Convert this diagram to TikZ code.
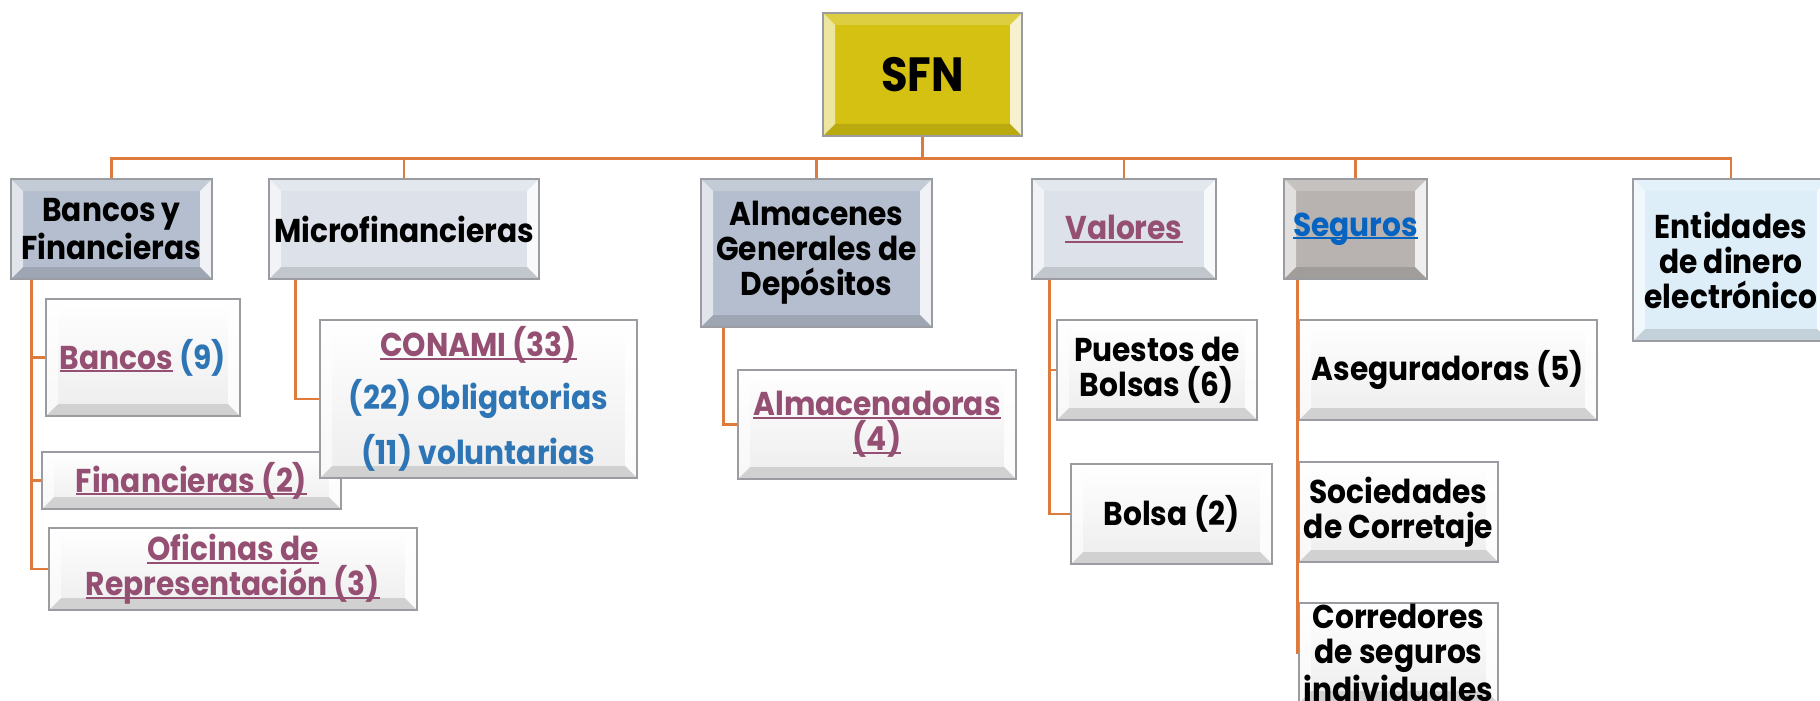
\documentclass[tikz,border=0pt]{standalone}
\usepackage{fontspec}
\setmainfont{Poppins}[FakeStretch=0.9]
\usetikzlibrary{calc}
\definecolor{cSFN}{HTML}{D4C112}
\definecolor{cSteel}{HTML}{B4BECE}
\definecolor{cLight}{HTML}{DDE2EA}
\definecolor{cWarm}{HTML}{B8B3B1}
\definecolor{cIce}{HTML}{DDEEF9}
\definecolor{cChildB}{HTML}{EDEDED}
\definecolor{cBorder}{HTML}{9A9CA2}
\definecolor{cLink}{HTML}{954F72}
\definecolor{cNum}{HTML}{2E75B6}
\definecolor{cHyper}{HTML}{0563C1}
\definecolor{cOr}{HTML}{DD7A3C}
\newcommand{\lnk}[1]{\leavevmode\setbox0=\hbox{#1}\rlap{\rule[-1.6pt]{\wd0}{1pt}}\box0}
\tikzset{
  bev/.style={path picture={
    \coordinate (q1) at (path picture bounding box.north west);
    \coordinate (q2) at (path picture bounding box.north east);
    \coordinate (q3) at (path picture bounding box.south east);
    \coordinate (q4) at (path picture bounding box.south west);
    \fill[white,opacity=.2] (q1) -- (q2) -- ($(q2)+(-12,12)$) -- ($(q1)+(12,12)$) -- cycle;
    \fill[white,opacity=.6] (q1) -- ($(q1)+(12,12)$) -- ($(q4)+(12,-12)$) -- (q4) -- cycle;
    \fill[white,opacity=.8] (q2) -- (q3) -- ($(q3)+(-12,-12)$) -- ($(q2)+(-12,12)$) -- cycle;
    \fill[black,opacity=.12] (q4) -- (q3) -- ($(q3)+(-12,-12)$) -- ($(q4)+(12,-12)$) -- cycle;
  }},
  pbox/.style={draw=cBorder, line width=0.8pt, inner sep=0pt, align=center, bev},
  cbox/.style={pbox, top color=white, bottom color=cChildB},
  conn/.style={draw=cOr, line width=1.3pt}
}
\begin{document}
\begin{tikzpicture}[x=0.5pt, y=-0.5pt, font=\bfseries\fontsize{16.5}{17.5}\selectfont]
\useasboundingbox (0,0) rectangle (1820,701);
% top level
\node[pbox, fill=cSFN, minimum width=99.5pt, minimum height=61.5pt, font=\bfseries\fontsize{24}{26}\selectfont] (sfn) at (922.5,74.5) {SFN};
\node[pbox, fill=cSteel, minimum width=100.5pt, minimum height=50pt] (bf) at (111.5,229) {Bancos y\\Financieras};
\node[pbox, fill=cLight, minimum width=135pt, minimum height=50pt] (mic) at (404,229) {Microfinancieras};
\node[pbox, fill=cSteel, minimum width=115.5pt, minimum height=74pt] (alm) at (816.5,253) {Almacenes\\Generales de\\Depósitos};
\node[pbox, fill=cLight, minimum width=92pt, minimum height=50pt, text=cLink] (val) at (1124,229) {\lnk{Valores}};
\node[pbox, fill=cWarm, minimum width=71.5pt, minimum height=50pt, text=cHyper] (seg) at (1355.5,229) {\lnk{Seguros}};
\node[pbox, fill=cIce, minimum width=98pt, minimum height=81pt] (ent) at (1731,260) {Entidades\\de dinero\\electrónico};
% children
\node[cbox, minimum width=97pt, minimum height=58.5pt] (ban) at (143,357.5) {{\color{cLink}\lnk{Bancos}} {\color{cNum}(9)}};
\node[cbox, minimum width=149.5pt, minimum height=28.5pt, text=cLink] (fin) at (191.5,480.5) {\lnk{Financieras (2)}};
\node[cbox, minimum width=184pt, minimum height=41pt, text=cLink] (ofi) at (233,569) {\lnk{Oficinas de}\\\lnk{Representación (3)}};
\node[cbox, minimum width=158.5pt, minimum height=79pt, text=cNum] (con) at (478.5,399) {{\color{cLink}\lnk{CONAMI (33)}}\\[7pt](22) Obligatorias\\[7pt](11) voluntarias};
\node[cbox, minimum width=139pt, minimum height=54.5pt, text=cLink] (alma) at (877,424.5) {\lnk{Almacenadoras}\\\lnk{(4)}};
\node[cbox, minimum width=100pt, minimum height=50pt] (pue) at (1157,370) {Puestos de\\Bolsas (6)};
\node[cbox, minimum width=100.5pt, minimum height=50pt] (bol) at (1171.5,514) {Bolsa (2)};
\node[cbox, minimum width=149pt, minimum height=50pt] (ase) at (1448,370) {Aseguradoras (5)};
\node[cbox, minimum width=99.5pt, minimum height=50pt] (soc) at (1398.5,512) {Sociedades\\de Corretaje};
\node[cbox, minimum width=99.5pt, minimum height=50pt] (cor) at (1398.5,653) {Corredores\\de seguros\\individuales};
% connectors
\foreach \t in {bf,mic,alm,val,seg,ent}{
  \draw[conn] (sfn.south) -- ++(0,21.5) -| (\t.north);
}
\draw[conn] ($(bf.south west)+(21,0)$) |- (ban.west);
\draw[conn] ($(bf.south west)+(21,0)$) |- (fin.west);
\draw[conn] ($(bf.south west)+(21,0)$) |- (ofi.west);
\draw[conn] ($(mic.south west)+(27,0)$) |- (con.west);
\draw[conn] ($(alm.south west)+(23,0)$) |- (alma.west);
\draw[conn] ($(val.south west)+(18,0)$) |- (pue.west);
\draw[conn] ($(val.south west)+(18,0)$) |- (bol.west);
\draw[conn] ($(seg.south west)+(14,0)$) |- (ase.west);
\draw[conn] ($(seg.south west)+(14,0)$) |- (soc.west);
\draw[conn] ($(seg.south west)+(14,0)$) |- (cor.west);
\end{tikzpicture}
\end{document}
